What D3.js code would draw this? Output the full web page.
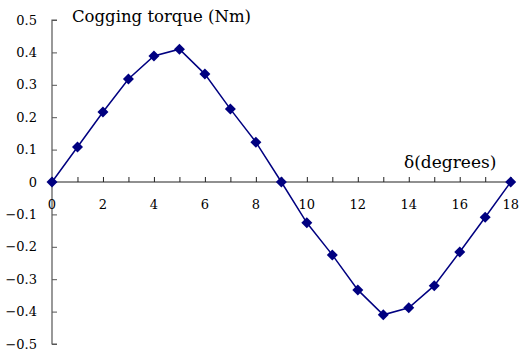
<!DOCTYPE html>
<html><head><meta charset="utf-8">
<script src="https://cdn.jsdelivr.net/npm/d3@7"></script>
<style>body{margin:0;background:#fff}svg{display:block}
text{font-family:"DejaVu Serif","Liberation Serif",serif}</style>
</head><body>
<script>
const angles = [0,1,2,3,4,5,6,7,8,9,10,11,12,13,14,15,16,17,18];
const torque = [0,0.108,0.216,0.318,0.389,0.41,0.333,0.225,0.123,0,-0.126,-0.225,-0.333,-0.41,-0.388,-0.32,-0.216,-0.109,0];
const yTicks = [-0.5,-0.4,-0.3,-0.2,-0.1,0,0.1,0.2,0.3,0.4,0.5];
const xLabelTicks = [0,2,4,6,8,10,12,14,16,18];

const W=519,H=354;
const svg=d3.select("body").append("svg").attr("width",W).attr("height",H);
const x=d3.scaleLinear().domain([0,18]).range([52,510.7]);
const y=d3.scaleLinear().domain([-0.5,0.5]).range([344,20]);
const axisCol="#555";

const ya=svg.append("g").attr("transform",`translate(${x(0)},0)`)
  .call(d3.axisRight(y).tickValues(yTicks).tickSize(5).tickFormat(()=>""));
ya.select(".domain").attr("stroke",axisCol).attr("stroke-width",1.2).attr("d",`M5,${y(0.5)}H0V${y(-0.5)}H5`);
ya.selectAll(".tick line").attr("stroke",axisCol);
svg.append("g").selectAll("text").data(yTicks).join("text")
  .attr("x",37).attr("y",d=>y(d)).attr("dy","0.35em").attr("text-anchor","end")
  .attr("font-size",13).attr("fill","#000")
  .text(d=>d===0?"0":d3.format(".1f")(d));

const xa=svg.append("g").attr("transform",`translate(0,${y(0)})`)
  .call(d3.axisTop(x).tickValues(angles).tickSize(5).tickFormat(()=>""));
xa.select(".domain").attr("stroke","#222").attr("stroke-width",1.2).attr("d",`M${x(0)},0H${x(18)}`);
xa.selectAll(".tick line").attr("stroke","#222");
svg.append("g").selectAll("text").data(xLabelTicks).join("text")
  .attr("x",d=>x(d)).attr("y",y(0)+27).attr("text-anchor","middle")
  .attr("font-size",13).attr("fill","#000").text(d=>d);

const data=angles.map((a,i)=>({a,t:torque[i]}));
svg.append("path").datum(data)
  .attr("d",d3.line().x(d=>x(d.a)).y(d=>y(d.t)))
  .attr("fill","none").attr("stroke","#000080").attr("stroke-width",1.5);
svg.append("g").selectAll("path").data(data).join("path")
  .attr("transform",d=>`translate(${x(d.a)},${y(d.t)})`)
  .attr("d","M0,-5.5L5.5,0L0,5.5L-5.5,0Z")
  .attr("fill","#000080");

svg.append("text").attr("x",72).attr("y",22).attr("font-size",16.5)
  .attr("fill","#000").text("Cogging torque (Nm)");
svg.append("text").attr("x",404).attr("y",168).attr("font-size",17)
  .attr("fill","#000").text("δ(degrees)");
</script>
</body></html>
